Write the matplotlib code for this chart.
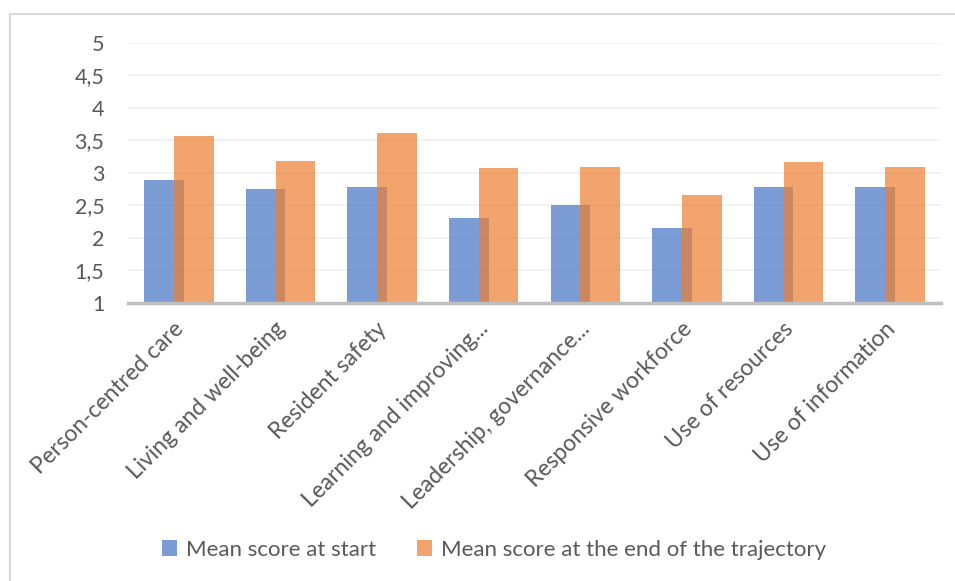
#!/usr/bin/env python3

import numpy as np
import matplotlib.pyplot as plt
import matplotlib.transforms as mtransforms
from matplotlib.patches import Rectangle
plt.switch_backend('agg')

categories = ['Person-centred care', 'Living and well-being', 'Resident safety',
              'Learning and improving...', 'Leadership, governance...',
              'Responsive workforce', 'Use of resources', 'Use of information']
start_scores = [2.89, 2.75, 2.79, 2.31, 2.50, 2.16, 2.79, 2.79]
end_scores = [3.57, 3.18, 3.62, 3.08, 3.09, 2.66, 3.17, 3.09]
ytick_vals = [1, 1.5, 2, 2.5, 3, 3.5, 4, 4.5, 5]
ytick_labels = ['1', '1,5', '2', '2,5', '3', '3,5', '4', '4,5', '5']

plt.rcParams['font.family'] = ['Lato', 'DejaVu Sans']
text_col = '#595959'

fig = plt.figure(figsize=(9.55, 5.81), dpi=100)
# chart border (cut off at right and bottom like the screenshot)
fig.patches.append(Rectangle((10/955, -0.1), 1.2, 1 - 14/581 + 0.1,
                             transform=fig.transFigure, fill=False,
                             edgecolor='#D9D9D9', linewidth=1.5))

ax = fig.add_axes([128/955, 1 - 303/581, (941-128)/955, 260/581])
x = np.arange(len(categories))
w = 0.39
off = 0.147
ax.bar(x - off, np.array(start_scores) - 1, w, bottom=1, color='#4472C4',
       alpha=0.7, label='Mean score at start', zorder=2)
ax.bar(x + off, np.array(end_scores) - 1, w, bottom=1, color='#ED7D31',
       alpha=0.7, label='Mean score at the end of the trajectory', zorder=3)

ax.set_xlim(-0.5, len(categories) - 0.5)
ax.set_ylim(1, 5)
ax.set_yticks(ytick_vals)
ax.set_yticklabels(ytick_labels)
ax.set_xticks(x)
ax.set_xticklabels(categories, rotation=45, ha='right', rotation_mode='anchor')
ax.tick_params(axis='y', length=0, pad=17, labelsize=15.5, labelcolor=text_col)
ax.tick_params(axis='x', length=0, pad=11, labelsize=16.5, labelcolor=text_col)
shift = mtransforms.ScaledTranslation(-6/100, 0, fig.dpi_scale_trans)
for lbl in ax.get_xticklabels():
    lbl.set_transform(lbl.get_transform() + shift)
ax.grid(axis='y', color='#F0F0F0', linewidth=1.2, zorder=0)
for s in ['top', 'right', 'left']:
    ax.spines[s].set_visible(False)
ax.spines['bottom'].set_color('#BFBFBF')
ax.spines['bottom'].set_linewidth(2.5)
ax.spines['bottom'].set_zorder(4)

fig.legend(loc='center', bbox_to_anchor=(494/955, 1 - 550/581), ncol=2,
           frameon=False, fontsize=16, labelcolor=text_col, handlelength=0.7,
           handleheight=0.7, handletextpad=0.4, columnspacing=1.8)

fig.savefig('out.png', dpi=100)
